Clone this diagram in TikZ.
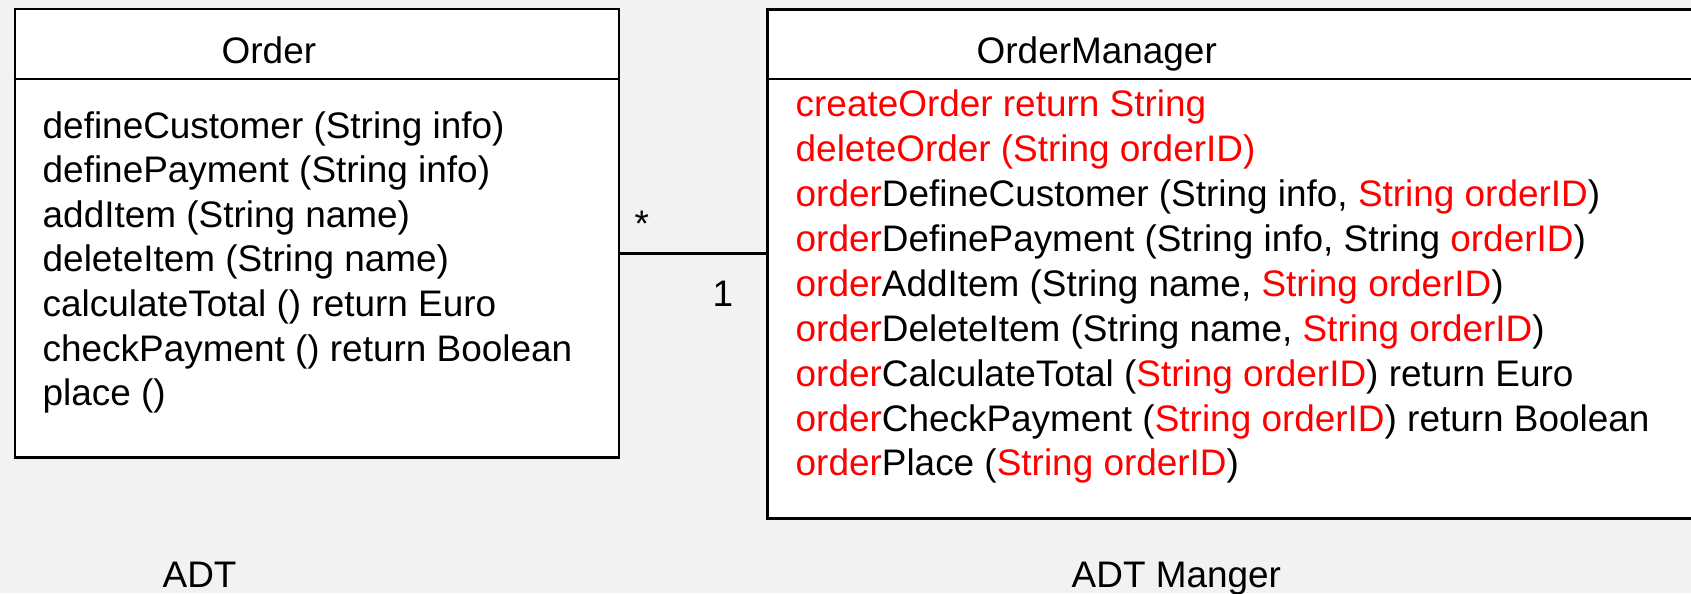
\documentclass[tikz,border=0pt]{standalone}
\usepackage{fontspec}
\setmainfont{Liberation Sans}
\usepackage{xcolor}
\usetikzlibrary{positioning}
\definecolor{canvas}{HTML}{F2F2F2}
\newcommand{\redtxt}[1]{\textcolor{red}{#1}}
\tikzset{%
	classbox/.style = {draw, line width=0.75pt, fill=white, rectangle, inner sep=0pt, anchor=north west}, % class frame
	member/.style   = {anchor=base west, inner sep=0pt}, % one text line
	nextline/.style = {below=of #1.base west, anchor=base west, inner sep=0pt}, % line under the previous one
	mult/.style     = {anchor=base, inner sep=0pt}, % multiplicity
	rule/.style     = {line width=0.75pt},
}
\begin{document}
\begin{tikzpicture}[x=0.01cm, y=-0.01cm, node distance=0.446cm, font=\fontsize{10.5}{12.7}\selectfont]
	\useasboundingbox (0,0) rectangle (1691,593);
	\clip (0,0) rectangle (1691,593);
	\fill[canvas] (0,0) rectangle (1691,593);

	% the two classes
	\node[classbox, minimum width=6.036cm, minimum height=4.48cm] (order) at (13.7,7.7) {};
	\node[classbox, minimum width=10cm, minimum height=5.087cm] (mgr) at (766,8) {};
	\coordinate (head) at (0,79);
	\coordinate (link) at (0,253.3);
	\draw[rule] (order.west |- head) -- (order.east |- head);
	\draw[rule] (mgr.west |- head) -- (mgr.east |- head);
	\draw[rule] (order.east |- link) -- (mgr.west |- link);
	\node[mult] (many) at (641.7,236) {*};
	\node[mult] (one) at (723,306) {1};

	\node[member] (ordertitle) at (221,63) {Order};
	\node[member] (mgrtitle) at (976,63) {OrderManager};

	% Order operations
	\node[member] (op1) at (42,138) {defineCustomer (String info)};
	\node[nextline=op1] (op2) {definePayment (String info)};
	\node[nextline=op2] (op3) {addItem (String name)};
	\node[nextline=op3] (op4) {deleteItem (String name)};
	\node[nextline=op4] (op5) {calculateTotal () return Euro};
	\node[nextline=op5] (op6) {checkPayment () return Boolean};
	\node[nextline=op6] (op7) {place ()};

	% OrderManager operations
	\begin{scope}[node distance=0.449cm]
	\node[member] (mop1) at (795,116.5) {\redtxt{createOrder return String}};
	\node[nextline=mop1] (mop2) {\redtxt{deleteOrder (String orderID)}};
	\node[nextline=mop2] (mop3) {\redtxt{order}DefineCustomer (String info, \redtxt{String orderID})};
	\node[nextline=mop3] (mop4) {\redtxt{order}DefinePayment (String info, String \redtxt{orderID})};
	\node[nextline=mop4] (mop5) {\redtxt{order}AddItem (String name, \redtxt{String orderID})};
	\node[nextline=mop5] (mop6) {\redtxt{order}DeleteItem (String name, \redtxt{String orderID})};
	\node[nextline=mop6] (mop7) {\redtxt{order}CalculateTotal (\redtxt{String orderID}) return Euro};
	\node[nextline=mop7] (mop8) {\redtxt{order}CheckPayment (\redtxt{String orderID}) return Boolean};
	\node[nextline=mop8] (mop9) {\redtxt{order}Place (\redtxt{String orderID})};
	\end{scope}

	\node[member] (adt) at (162,587) {ADT};
	\node[member] (adtmgr) at (1071,587) {ADT Manger};
\end{tikzpicture}
\end{document}
